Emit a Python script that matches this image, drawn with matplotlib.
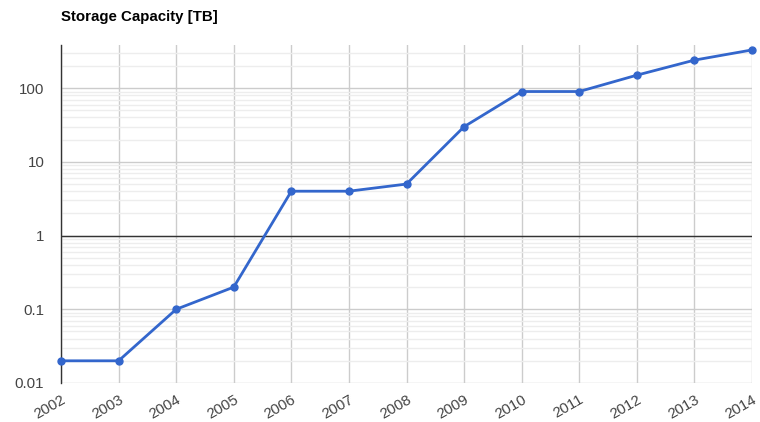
import matplotlib
matplotlib.use("Agg")
import matplotlib.pyplot as plt
from matplotlib.ticker import LogLocator, FixedLocator, NullFormatter

plt.rcParams['font.family'] = ['Liberation Sans', 'DejaVu Sans']

# data
years = [2002, 2003, 2004, 2005, 2006, 2007, 2008, 2009, 2010, 2011, 2012, 2013, 2014]
capacity_tb = [0.02, 0.02, 0.1, 0.2, 4, 4, 5, 30, 90, 90, 150, 240, 330]
y_ticks = [0.01, 0.1, 1, 10, 100]
y_tick_labels = ['0.01', '0.1', '1', '10', '100']

fig = plt.figure(figsize=(7.6, 4.22), dpi=100)
ax = fig.add_axes([61 / 760, 39 / 422, 691 / 760, 338 / 422])

ax.set_yscale('log')
ax.set_ylim(0.01, 385)
ax.set_xlim(years[0], years[-1])

# grid
ax.yaxis.set_major_locator(FixedLocator(y_ticks))
ax.yaxis.set_minor_locator(LogLocator(base=10, subs=range(2, 10)))
ax.yaxis.set_minor_formatter(NullFormatter())
ax.set_yticklabels(y_tick_labels)
ax.set_xticks(years)
ax.set_xticklabels([str(y) for y in years], rotation=30, ha='right',
                   rotation_mode='anchor')

ax.grid(True, which='major', axis='both', color='#cccccc', linewidth=1)
ax.grid(True, which='minor', axis='y', color='#ededed', linewidth=1)
ax.axhline(1, color='#333333', linewidth=1, zorder=2)
ax.set_axisbelow(True)

for s in ['top', 'right', 'bottom']:
    ax.spines[s].set_visible(False)
ax.spines['left'].set_color('#333333')
ax.spines['left'].set_linewidth(1)

ax.tick_params(axis='both', which='both', length=0, labelsize=10.8,
               labelcolor='#444444')
ax.tick_params(axis='y', pad=12)
ax.tick_params(axis='x', pad=7)

ax.plot(years, capacity_tb, color='#3366cc', linewidth=2, marker='o',
        markersize=5, zorder=3, clip_on=False)

fig.text(61 / 760, 1 - 17 / 422, 'Storage Capacity [TB]', fontsize=10.8,
         fontweight='bold', color='#000000', va='center', ha='left')

fig.savefig('out.png', dpi=100)
